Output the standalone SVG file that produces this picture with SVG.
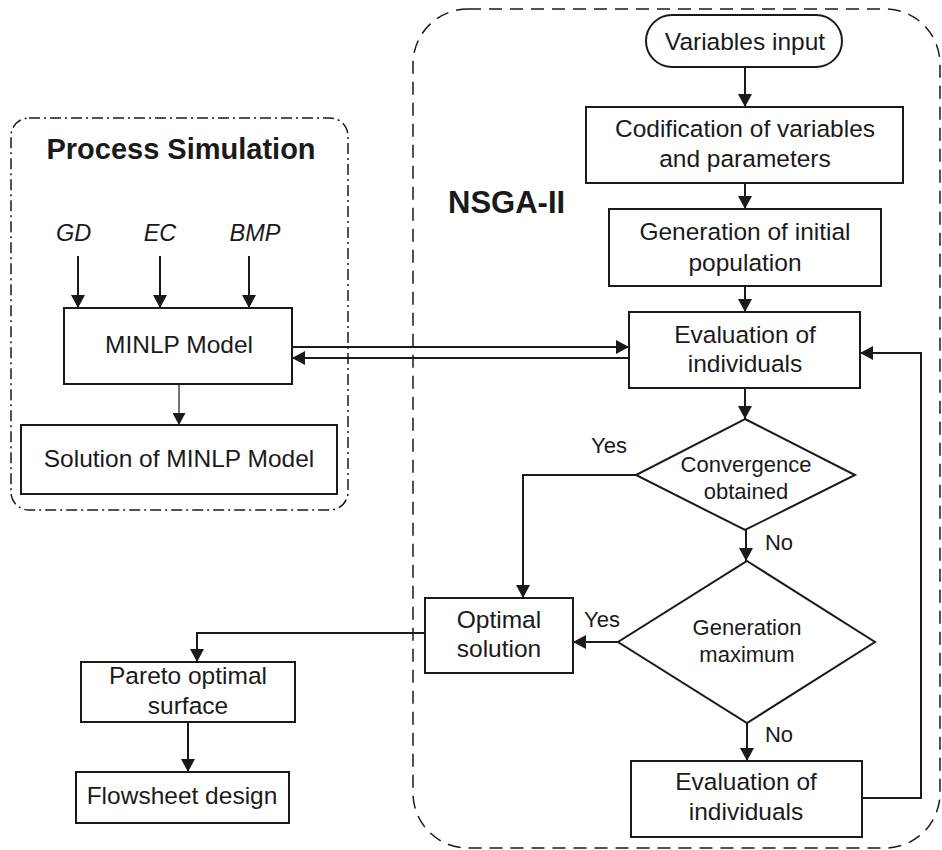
<svg xmlns="http://www.w3.org/2000/svg" width="942" height="850" viewBox="0 0 942 850">
<defs>
<marker id="ah" markerUnits="userSpaceOnUse" markerWidth="13" markerHeight="14" refX="13" refY="7" orient="auto">
<path d="M0,0 L13,7 L0,14 z" fill="#1a1a1a"/>
</marker>
<marker id="ahs" markerUnits="userSpaceOnUse" markerWidth="12" markerHeight="13" refX="12" refY="6.5" orient="auto">
<path d="M0,0 L12,6.5 L0,13 z" fill="#1a1a1a"/>
</marker>
<style>
.box{fill:#fff;stroke:#1a1a1a;stroke-width:2}
.t{font-family:"Liberation Sans",Arial,sans-serif;font-size:24.5px;fill:#1a1a1a;text-anchor:middle}
.s{font-family:"Liberation Sans",Arial,sans-serif;font-size:22px;fill:#1a1a1a;text-anchor:middle}
.i{font-family:"Liberation Sans",Arial,sans-serif;font-size:23.5px;font-style:italic;fill:#1a1a1a;text-anchor:middle}
.b{font-family:"Liberation Sans",Arial,sans-serif;font-weight:bold;fill:#1a1a1a}
.c{fill:none;stroke:#1a1a1a;stroke-width:2}
</style>
</defs>
<rect width="942" height="850" fill="#fff"/>

<g id="process-simulation-group">
<rect x="11" y="118" width="337" height="392" rx="18" fill="none" stroke="#1a1a1a" stroke-width="1.5" stroke-dasharray="11 4 2 4"/>
<text class="b" x="181" y="159" font-size="29" text-anchor="middle">Process Simulation</text>
</g>
<g id="nsga-group">
<rect x="413" y="9" width="527" height="839" rx="55" fill="none" stroke="#1a1a1a" stroke-width="1.5" stroke-dasharray="13 8"/>
<text class="b" x="448" y="213" font-size="31">NSGA-II</text>
</g>

<g id="connectors">
<line class="c" x1="78" y1="256" x2="78" y2="308" marker-end="url(#ah)"/>
<line class="c" x1="160" y1="256" x2="160" y2="308" marker-end="url(#ah)"/>
<line class="c" x1="249" y1="256" x2="249" y2="308" marker-end="url(#ah)"/>
<line x1="179" y1="384" x2="179" y2="425" stroke="#1a1a1a" stroke-width="1.2" marker-end="url(#ahs)"/>
<line class="c" x1="292" y1="347" x2="629" y2="347" marker-end="url(#ah)"/>
<line class="c" x1="629" y1="358" x2="292" y2="358" marker-end="url(#ah)"/>
<line class="c" x1="745" y1="67" x2="745" y2="107" marker-end="url(#ah)"/>
<line class="c" x1="745" y1="183" x2="745" y2="209" marker-end="url(#ah)"/>
<line class="c" x1="745" y1="286" x2="745" y2="312" marker-end="url(#ah)"/>
<line class="c" x1="745" y1="388" x2="745" y2="419" marker-end="url(#ah)"/>
<line class="c" x1="746" y1="530" x2="746" y2="561" marker-end="url(#ah)"/>
<line class="c" x1="747" y1="723" x2="747" y2="761" marker-end="url(#ah)"/>
<polyline class="c" points="636,475 523,475 523,598" marker-end="url(#ah)"/>
<line class="c" x1="618" y1="642" x2="573" y2="642" marker-end="url(#ah)"/>
<polyline class="c" points="862,798 921,798 921,353 860,353" marker-end="url(#ah)"/>
<polyline class="c" points="425,633 197,633 197,662" marker-end="url(#ah)"/>
<line class="c" x1="188" y1="722" x2="188" y2="772" marker-end="url(#ah)"/>
</g>

<g id="gd"><text class="i" x="73.5" y="241">GD</text></g>
<g id="ec"><text class="i" x="160" y="241">EC</text></g>
<g id="bmp"><text class="i" x="255" y="241">BMP</text></g>

<g id="minlp-model">
<rect class="box" x="64" y="308" width="228" height="76"/>
<text class="t" x="179" y="353">MINLP Model</text>
</g>
<g id="solution-minlp">
<rect class="box" x="21" y="425" width="316" height="69"/>
<text class="t" x="179" y="467">Solution of MINLP Model</text>
</g>

<g id="variables-input">
<rect class="box" x="646" y="15" width="196" height="52" rx="26"/>
<text class="t" x="745" y="50">Variables input</text>
</g>
<g id="codification">
<rect class="box" x="586" y="107" width="317" height="76"/>
<text class="t" x="745" y="137">Codification of variables</text>
<text class="t" x="745" y="167">and parameters</text>
</g>
<g id="generation-initial">
<rect class="box" x="609" y="209" width="272" height="77"/>
<text class="t" x="745" y="240">Generation of initial</text>
<text class="t" x="745" y="271">population</text>
</g>
<g id="evaluation-1">
<rect class="box" x="629" y="312" width="231" height="76"/>
<text class="t" x="745" y="343">Evaluation of</text>
<text class="t" x="745" y="372">individuals</text>
</g>
<g id="convergence">
<polygon class="box" points="745,419 855,475 745,530 636,475"/>
<text class="s" x="746" y="472">Convergence</text>
<text class="s" x="746" y="499">obtained</text>
</g>
<g id="yes-1"><text class="s" x="609" y="453">Yes</text></g>
<g id="no-1"><text class="s" x="779" y="550">No</text></g>
<g id="generation-maximum">
<polygon class="box" points="747,561 875,642 747,723 618,642"/>
<text class="s" x="747" y="635">Generation</text>
<text class="s" x="747" y="662">maximum</text>
</g>
<g id="yes-2"><text class="s" x="602" y="627">Yes</text></g>
<g id="no-2"><text class="s" x="779" y="742">No</text></g>
<g id="optimal-solution">
<rect class="box" x="425" y="598" width="148" height="75"/>
<text class="t" x="499" y="628">Optimal</text>
<text class="t" x="499" y="657">solution</text>
</g>
<g id="evaluation-2">
<rect class="box" x="631" y="761" width="231" height="76"/>
<text class="t" x="746" y="790">Evaluation of</text>
<text class="t" x="746" y="820">individuals</text>
</g>
<g id="pareto">
<rect class="box" x="81" y="662" width="214" height="60"/>
<text class="t" x="188" y="684">Pareto optimal</text>
<text class="t" x="188" y="714">surface</text>
</g>
<g id="flowsheet">
<rect class="box" x="76" y="772" width="213" height="51"/>
<text class="t" x="182" y="804">Flowsheet design</text>
</g>
</svg>
